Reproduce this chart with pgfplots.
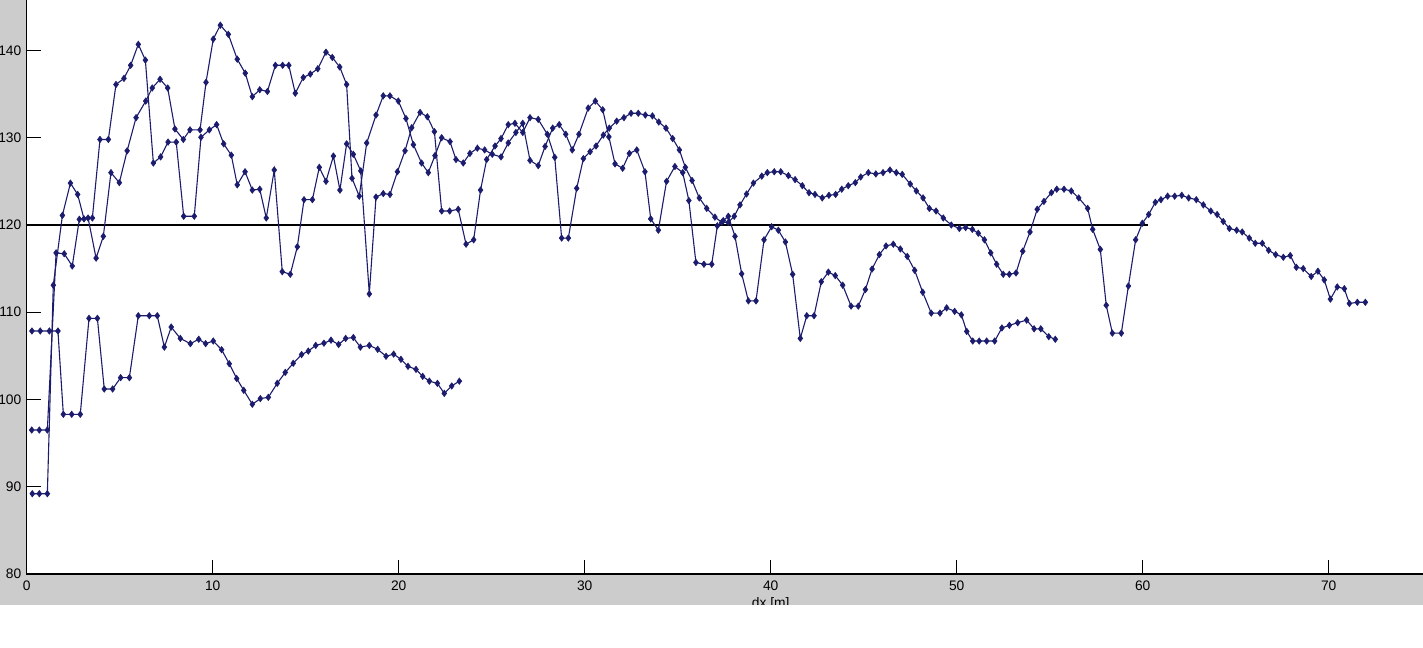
\documentclass[border=0pt]{standalone}
\usepackage{fontspec}
\setmainfont{Liberation Sans}
\usepackage{pgfplots}
\usepackage{pgfplotstable}
\pgfplotsset{compat=1.18}

\definecolor{mline}{RGB}{28,28,110}
\definecolor{figgray}{RGB}{204,204,204}

% low series, ends near 23 m
\pgfplotstableread{
x y
0.28 107.85
0.73 107.85
1.22 107.85
1.68 107.85
1.97 98.3
2.42 98.3
2.88 98.3
3.35 109.3
3.80 109.3
4.17 101.2
4.62 101.2
5.05 102.5
5.52 102.5
6.00 109.6
6.59 109.6
7.02 109.6
7.40 106.0
7.77 108.3
8.26 107.0
8.80 106.4
9.25 106.9
9.62 106.4
10.03 106.7
10.48 105.7
10.89 104.1
11.29 102.4
11.67 101.05
12.13 99.45
12.56 100.1
12.99 100.25
13.47 101.85
13.90 103.1
14.33 104.15
14.78 105.15
15.14 105.55
15.54 106.2
15.98 106.45
16.36 106.8
16.77 106.3
17.15 107.0
17.56 107.1
17.94 106.0
18.42 106.2
18.87 105.75
19.32 104.95
19.73 105.2
20.12 104.6
20.50 103.8
20.93 103.45
21.29 102.65
21.65 102.1
22.08 101.85
22.45 100.7
22.85 101.55
23.26 102.1
}\datS

% middle series, ends near 55 m
\pgfplotstableread{
x y
0.27 96.5
0.68 96.5
1.11 96.5
1.58 116.8
2.02 116.7
2.45 115.3
2.83 120.65
3.30 120.8
3.73 116.2
4.12 118.7
4.53 126.0
4.98 124.85
5.40 128.5
5.88 132.3
6.40 134.2
6.75 135.7
7.17 136.7
7.58 135.7
7.97 131.0
8.42 129.8
8.78 130.9
9.32 130.9
9.64 136.35
10.03 141.3
10.41 142.9
10.84 141.85
11.32 139.0
11.75 137.4
12.13 134.7
12.53 135.5
12.94 135.3
13.37 138.3
13.76 138.3
14.09 138.3
14.44 135.1
14.87 136.9
15.25 137.3
15.65 137.9
16.09 139.8
16.43 139.2
16.83 138.1
17.20 136.1
17.49 125.35
17.88 123.3
18.28 129.4
18.78 132.6
19.17 134.8
19.53 134.8
19.98 134.2
20.39 132.2
20.79 129.2
21.23 127.1
21.59 126.0
21.95 127.95
22.31 130.0
22.76 129.55
23.08 127.5
23.47 127.1
23.83 128.2
24.23 128.8
24.62 128.6
25.03 128.1
25.50 127.8
25.89 129.4
26.30 130.6
26.67 131.65
27.06 127.4
27.50 126.8
27.87 129.0
28.28 131.1
28.63 131.5
28.98 130.4
29.33 128.6
29.69 130.4
30.19 133.4
30.57 134.2
30.97 133.2
31.30 130.1
31.63 127.0
32.04 126.5
32.40 128.2
32.80 128.6
33.24 126.1
33.55 120.7
33.96 119.4
34.40 125.0
34.85 126.7
35.27 126.0
35.60 122.8
35.98 115.7
36.41 115.5
36.83 115.5
37.13 119.9
37.45 120.5
37.72 121.0
38.08 118.7
38.44 114.4
38.80 111.3
39.21 111.3
39.64 118.3
40.05 119.8
40.41 119.4
40.79 118.05
41.18 114.35
41.59 107.0
41.94 109.6
42.33 109.6
42.72 113.5
43.10 114.6
43.47 114.2
43.87 113.1
44.32 110.7
44.71 110.7
45.09 112.6
45.45 114.95
45.84 116.6
46.20 117.6
46.59 117.8
46.97 117.25
47.34 116.4
47.74 114.8
48.17 112.3
48.63 109.9
49.10 109.9
49.46 110.5
49.89 110.1
50.25 109.7
50.54 107.8
50.86 106.7
51.21 106.7
51.61 106.7
52.04 106.7
52.43 108.2
52.83 108.5
53.28 108.8
53.76 109.1
54.16 108.1
54.52 108.1
54.95 107.2
55.30 106.9
}\datM

% long series, ends near 72 m
\pgfplotstableread{
x y
0.30 89.2
0.68 89.2
1.11 89.2
1.43 113.1
1.92 121.1
2.35 124.8
2.74 123.5
3.08 120.7
3.53 120.8
3.94 129.8
4.39 129.8
4.80 136.1
5.23 136.8
5.59 138.3
6.00 140.7
6.38 138.9
6.81 127.1
7.20 127.8
7.60 129.5
8.04 129.5
8.44 121.0
9.01 121.0
9.37 130.05
9.82 130.9
10.21 131.5
10.59 129.3
11.00 128.0
11.32 124.6
11.74 126.1
12.13 124.0
12.53 124.1
12.88 120.8
13.31 126.3
13.74 114.65
14.17 114.35
14.55 117.5
14.91 122.9
15.36 122.9
15.73 126.6
16.09 125.0
16.49 127.9
16.84 124.0
17.20 129.3
17.56 128.1
17.96 126.2
18.42 112.1
18.78 123.2
19.17 123.6
19.53 123.5
19.93 126.1
20.34 128.5
20.70 131.15
21.15 132.9
21.54 132.4
21.92 130.7
22.31 121.6
22.74 121.6
23.20 121.8
23.62 117.8
24.03 118.3
24.40 124.0
24.73 127.5
25.18 129.05
25.50 129.9
25.89 131.5
26.25 131.65
26.67 130.6
27.06 132.3
27.50 132.1
27.99 130.4
28.39 127.75
28.76 118.5
29.12 118.5
29.57 124.2
29.93 127.6
30.29 128.4
30.61 129.05
31.00 130.3
31.32 131.1
31.72 131.9
32.11 132.3
32.49 132.8
32.88 132.8
33.26 132.6
33.64 132.5
33.98 131.8
34.37 131.1
34.73 129.9
35.09 128.6
35.41 126.6
35.77 125.1
36.16 123.1
36.56 121.9
37.00 120.9
37.37 120.3
37.72 120.3
38.04 121.0
38.35 122.3
38.70 123.55
39.07 124.8
39.52 125.6
39.82 126.0
40.19 126.1
40.54 126.1
40.95 125.65
41.31 125.2
41.70 124.5
42.06 123.7
42.38 123.5
42.77 123.1
43.13 123.4
43.49 123.5
43.82 124.1
44.17 124.5
44.55 124.85
44.84 125.5
45.25 126.0
45.65 125.85
46.04 126.0
46.41 126.3
46.75 126.0
47.07 125.8
47.50 124.7
47.83 123.9
48.19 123.1
48.53 121.9
48.89 121.6
49.28 120.8
49.71 120.0
50.14 119.6
50.48 119.7
50.84 119.5
51.16 119.05
51.49 118.3
51.83 116.8
52.15 115.5
52.50 114.35
52.83 114.35
53.19 114.5
53.55 117.0
53.94 119.2
54.33 121.8
54.69 122.7
55.09 123.7
55.38 124.1
55.77 124.1
56.16 123.9
56.56 123.1
57.04 121.9
57.31 119.5
57.72 117.2
58.04 110.8
58.37 107.6
58.85 107.6
59.23 113.0
59.62 118.3
59.98 120.2
60.32 121.2
60.68 122.6
60.98 122.9
61.34 123.3
61.72 123.3
62.10 123.4
62.47 123.1
62.88 122.9
63.26 122.3
63.66 121.6
64.00 121.2
64.33 120.4
64.66 119.6
65.05 119.4
65.35 119.2
65.73 118.5
66.05 117.9
66.43 117.9
66.77 117.1
67.15 116.6
67.56 116.3
67.93 116.5
68.26 115.15
68.63 115.0
69.06 114.1
69.42 114.7
69.76 113.7
70.09 111.5
70.46 112.9
70.84 112.7
71.11 111.0
71.54 111.14
71.97 111.14
}\datL

\begin{document}
\begin{tikzpicture}
\useasboundingbox (0bp,0bp) rectangle (711.5bp,324bp);
\fill[figgray] (0bp,0bp) rectangle (711.5bp,324bp);
\begin{axis}[
    at={(13.35bp,37bp)}, anchor=south west,
    scale only axis,
    width=744bp, height=305.4bp,
    xmin=0, xmax=80,
    ymin=80, ymax=150,
    xtick={0,10,...,70},
    ytick={80,90,...,140},
    axis background/.style={fill=white},
    axis line style={black, line width=0.6bp},
    tick align=inside,
    major tick length=7bp,
    every tick/.style={black, line width=0.6bp},
    tick label style={font=\fontsize{6.9bp}{8.2bp}\selectfont, inner sep=0pt},
    /pgf/number format/assume math mode=true,
    xticklabel style={anchor=north, yshift=-3.4bp},
    yticklabel style={anchor=east, xshift=-2.5bp},
    xlabel={dx [m]},
    xlabel style={at={(axis description cs:0.5,0)}, anchor=north, inner sep=0pt,
        yshift=-11.5bp, font=\fontsize{6.9bp}{8.2bp}\selectfont},
]
\addplot[black, line width=0.6bp, no markers] coordinates {(0,120) (60.3,120)};
\addplot[mline, line width=0.55bp, mark=diamond*, mark size=1.6bp,
    mark options={solid, fill=mline, draw=mline, line width=0.3bp}] table {\datS};
\addplot[mline, line width=0.55bp, mark=diamond*, mark size=1.6bp,
    mark options={solid, fill=mline, draw=mline, line width=0.3bp}] table {\datM};
\addplot[mline, line width=0.55bp, mark=diamond*, mark size=1.6bp,
    mark options={solid, fill=mline, draw=mline, line width=0.3bp}] table {\datL};
\end{axis}
\fill[white] (0bp,0bp) rectangle (711.5bp,21.5bp);
\end{tikzpicture}
\end{document}
